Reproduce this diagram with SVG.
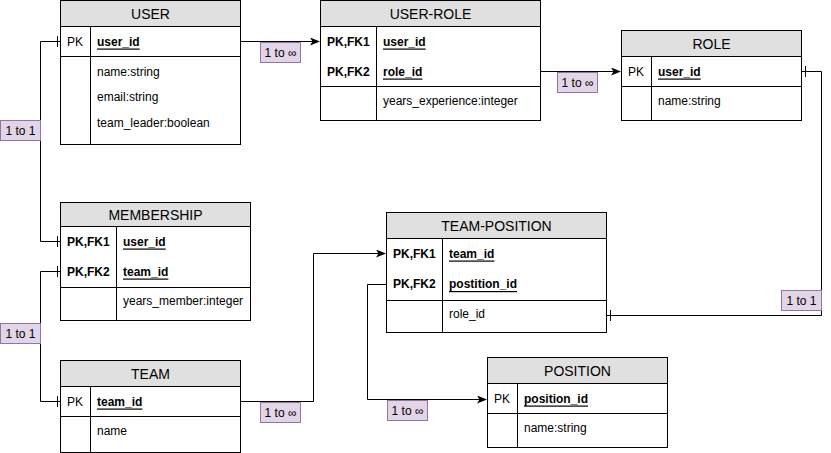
<svg xmlns="http://www.w3.org/2000/svg" width="831" height="453" viewBox="0 0 831 453">
<defs>
<style>
.box{fill:#ffffff;stroke:#000000;stroke-width:1}
.hdr{fill:#e0e0e0;stroke:#000000;stroke-width:1}
.ln{stroke:#000000;stroke-width:1;fill:none}
.t{font-family:"Liberation Sans",Arial,sans-serif;font-size:12px;fill:#000000;dominant-baseline:central}
.h{font-family:"Liberation Sans",Arial,sans-serif;font-size:14px;fill:#000000;dominant-baseline:central;text-anchor:middle}
.b{font-weight:bold}
.u{text-decoration:underline}
.lbl{fill:#e1d5e7;stroke:#9673a6;stroke-width:1}
.lt{font-family:"Liberation Sans",Arial,sans-serif;font-size:12px;fill:#000000;dominant-baseline:central;text-anchor:middle}
</style>
<marker id="arr" viewBox="0 0 10 8" refX="9" refY="4" markerWidth="10" markerHeight="8" markerUnits="userSpaceOnUse" orient="auto">
<path d="M0,0 L10,4 L0,8 L2.5,4 z" fill="#000000"/>
</marker>
</defs>
<rect width="831" height="453" fill="#ffffff"/>

<g id="connectors">
<path class="ln" d="M240.5,41.5 H319" marker-end="url(#arr)"/>
<path class="ln" d="M540.5,71.5 H620" marker-end="url(#arr)"/>
<path class="ln" d="M801.5,71.5 H821.5 V315.5 H606.5"/>
<path class="ln" d="M805.5,66 V77"/>
<path class="ln" d="M610.5,310 V321"/>
<path class="ln" d="M60.5,41.5 H40.5 V241.5 H60.5"/>
<path class="ln" d="M57.5,36 V47"/>
<path class="ln" d="M57.5,236 V247"/>
<path class="ln" d="M60.5,271.5 H40.5 V401.5 H60.5"/>
<path class="ln" d="M57.5,266 V277"/>
<path class="ln" d="M57.5,396 V407"/>
<path class="ln" d="M240.5,401.5 H313.5 V253.5 H385" marker-end="url(#arr)"/>
<path class="ln" d="M386.5,284.5 H367.5 V399.5 H486" marker-end="url(#arr)"/>
<rect class="lbl" x="260.5" y="42.5" width="40" height="20"/>
<text class="lt" x="280.5" y="52.5">1 to ∞</text>
<rect class="lbl" x="557.5" y="72.5" width="40" height="20"/>
<text class="lt" x="577.5" y="82.5">1 to ∞</text>
<rect class="lbl" x="781.5" y="290.5" width="40" height="20"/>
<text class="lt" x="801.5" y="300.5">1 to 1</text>
<rect class="lbl" x="0.5" y="120.5" width="40" height="20"/>
<text class="lt" x="20.5" y="130.5">1 to 1</text>
<rect class="lbl" x="0.5" y="323.5" width="40" height="20"/>
<text class="lt" x="20.5" y="333.5">1 to 1</text>
<rect class="lbl" x="260.5" y="402.5" width="40" height="20"/>
<text class="lt" x="280.5" y="412.5">1 to ∞</text>
<rect class="lbl" x="387.5" y="400.5" width="40" height="20"/>
<text class="lt" x="407.5" y="410.5">1 to ∞</text>
</g>

<g id="user">
<rect class="box" x="60.5" y="0.5" width="180" height="144"/>
<rect class="hdr" x="60.5" y="0.5" width="180" height="26"/>
<text class="h" x="150.5" y="14">USER</text>
<path class="ln" d="M60.5,56.5 H240.5 M90.5,26.5 V144.5"/>
<text class="t" x="67" y="41.5">PK</text>
<text class="t b u" x="97" y="41.5">user_id</text>
<text class="t" x="97" y="71.5">name:string</text>
<text class="t" x="97" y="97">email:string</text>
<text class="t" x="97" y="122.5">team_leader:boolean</text>
</g>

<g id="user-role">
<rect class="box" x="320.5" y="0.5" width="220" height="120"/>
<rect class="hdr" x="320.5" y="0.5" width="220" height="26"/>
<text class="h" x="430.5" y="14">USER-ROLE</text>
<path class="ln" d="M320.5,86.5 H540.5 M376.5,26.5 V120.5"/>
<text class="t b" x="327" y="41.5">PK,FK1</text>
<text class="t b u" x="383" y="41.5">user_id</text>
<text class="t b" x="327" y="71.5">PK,FK2</text>
<text class="t b u" x="383" y="71.5">role_id</text>
<text class="t" x="383" y="101">years_experience:integer</text>
</g>

<g id="role">
<rect class="box" x="621.5" y="30.5" width="180" height="90"/>
<rect class="hdr" x="621.5" y="30.5" width="180" height="26"/>
<text class="h" x="711.5" y="44">ROLE</text>
<path class="ln" d="M621.5,86.5 H801.5 M651.5,56.5 V120.5"/>
<text class="t" x="628" y="71.5">PK</text>
<text class="t b u" x="658" y="71.5">user_id</text>
<text class="t" x="658" y="101">name:string</text>
</g>

<g id="membership">
<rect class="box" x="60.5" y="202.5" width="190" height="118"/>
<rect class="hdr" x="60.5" y="202.5" width="190" height="24"/>
<text class="h" x="155.5" y="215">MEMBERSHIP</text>
<path class="ln" d="M60.5,287.5 H250.5 M116.5,226.5 V320.5"/>
<text class="t b" x="67" y="241.5">PK,FK1</text>
<text class="t b u" x="123" y="241.5">user_id</text>
<text class="t b" x="67" y="271.5">PK,FK2</text>
<text class="t b u" x="123" y="271.5">team_id</text>
<text class="t" x="123" y="300.5">years_member:integer</text>
</g>

<g id="team">
<rect class="box" x="60.5" y="360.5" width="180" height="92"/>
<rect class="hdr" x="60.5" y="360.5" width="180" height="26"/>
<text class="h" x="150.5" y="374">TEAM</text>
<path class="ln" d="M60.5,416.5 H240.5 M90.5,386.5 V452.5"/>
<text class="t" x="67" y="401.5">PK</text>
<text class="t b u" x="97" y="401.5">team_id</text>
<text class="t" x="97" y="431">name</text>
</g>

<g id="team-position">
<rect class="box" x="386.5" y="212.5" width="220" height="120"/>
<rect class="hdr" x="386.5" y="212.5" width="220" height="26"/>
<text class="h" x="496.5" y="226">TEAM-POSITION</text>
<path class="ln" d="M386.5,300.5 H606.5 M442.5,238.5 V332.5"/>
<text class="t b" x="393" y="253.5">PK,FK1</text>
<text class="t b u" x="449" y="253.5">team_id</text>
<text class="t b" x="393" y="284">PK,FK2</text>
<text class="t b u" x="449" y="284">postition_id</text>
<text class="t" x="449" y="313.5">role_id</text>
</g>

<g id="position">
<rect class="box" x="487.5" y="357.5" width="180" height="90"/>
<rect class="hdr" x="487.5" y="357.5" width="180" height="26"/>
<text class="h" x="577.5" y="371">POSITION</text>
<path class="ln" d="M487.5,413.5 H667.5 M517.5,383.5 V447.5"/>
<text class="t" x="494" y="398.5">PK</text>
<text class="t b u" x="524" y="398.5">position_id</text>
<text class="t" x="524" y="428">name:string</text>
</g>
</svg>
